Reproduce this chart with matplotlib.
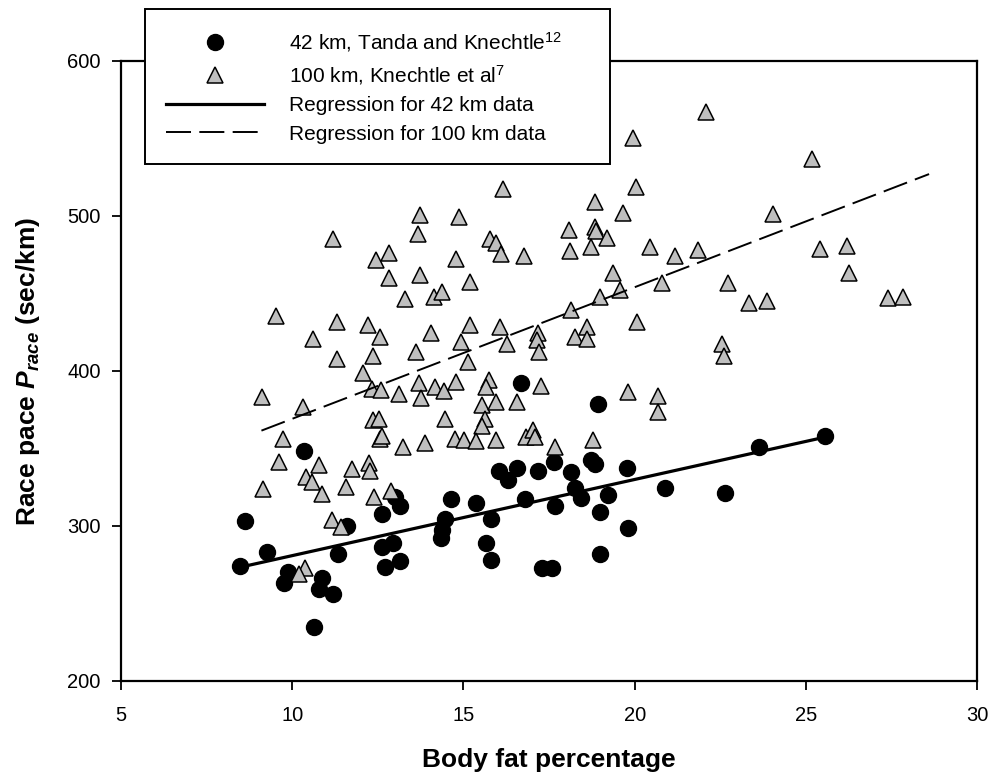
import numpy as np
import matplotlib
matplotlib.use("Agg")
from matplotlib import pyplot as plt

# 42 km marathon data (body fat %, race pace sec/km)
fat42 = [8.46, 8.61, 9.27, 9.77, 9.89, 10.33, 10.65, 10.78, 10.87, 11.18, 11.35, 11.6,
         12.63, 12.63, 12.72, 12.94, 13.01, 13.16, 13.16, 14.35, 14.37, 14.47, 14.63,
         15.37, 15.67, 15.81, 15.8, 16.03, 16.3, 16.55, 16.67, 16.79, 17.17, 17.3,
         17.64, 17.67, 17.6, 18.15, 18.26, 18.42, 18.73, 18.84, 18.94, 19.0, 19.0,
         19.22, 19.77, 19.81, 20.88, 22.65, 23.63, 25.56]
pace42 = [274.4, 303.2, 283, 263, 270.5, 348.6, 234.6, 259.1, 266.7, 256, 281.7, 300.2,
          307.7, 286.2, 273.3, 288.8, 318.9, 312.9, 277.4, 292, 297.4, 304.5, 317.4,
          314.6, 288.8, 304.3, 278, 335.7, 329.7, 337.2, 392.5, 317.2, 335.7, 273,
          341, 312.9, 273, 334.5, 324.3, 318.3, 342.6, 339.8, 378.5, 308.8, 282,
          320, 337.2, 298.9, 324.3, 321.5, 351.2, 358.3]

# 100 km ultra data
fat100 = [22.08, 19.96, 20.03, 16.15, 18.84, 19.67, 13.74, 14.87, 13.66, 11.19, 12.82,
          12.46, 12.82, 13.72, 13.28, 14.13, 14.38, 9.53, 11.32, 12.21, 12.57, 10.62,
          14.06, 11.32, 12.36, 13.61, 12.07, 12.33, 12.6, 13.11, 13.69, 13.77, 14.18,
          14.43, 9.11, 10.30, 12.37, 12.52, 14.47, 9.73, 12.55, 12.62, 13.23, 13.89,
          18.08, 18.83, 18.86, 19.2, 15.77, 15.94, 16.1, 16.78, 14.77, 18.11, 18.74,
          20.44, 21.17, 21.85, 15.18, 19.37, 19.57, 20.81, 22.74, 23.33, 19.0, 18.13,
          20.08, 15.2, 16.08, 14.93, 16.28, 17.17, 17.15, 17.2, 18.6, 18.25, 18.6,
          22.56, 22.61, 15.13, 14.77, 15.74, 15.67, 17.27, 16.55, 15.54, 15.94, 15.64,
          15.54, 19.81, 20.69, 20.69, 14.75, 15.03, 15.38, 15.96, 16.84, 17.04, 17.1,
          17.68, 18.79, 25.17, 24.05, 25.42, 26.2, 26.27, 23.88, 27.39, 27.84, 9.6,
          9.16, 10.41, 10.77, 10.58, 10.87, 11.16, 11.42, 11.76, 11.58, 12.23, 12.26,
          12.4, 12.89, 10.38, 10.21]
pace100 = [567, 550.5, 518.5, 517.4, 509, 502.1, 500.6, 499.5, 488.4, 485.2, 476.3,
           471.6, 459.8, 462, 446.5, 448, 451.2, 435.5, 431.8, 429.7, 422.1, 420.4,
           424.7, 407.5, 409.7, 412.4, 398.9, 388.4, 387.7, 384.9, 392.5, 382.8, 389.5,
           387.3, 383, 377, 368.4, 368.8, 368.8, 355.9, 355.9, 358, 351.2, 353.3,
           491, 493.1, 490.5, 485.6, 485.2, 482.4, 475.5, 474.2, 472.1, 477.6, 479.8,
           479.8, 474.4, 478.1, 457.6, 463, 452.3, 456.6, 456.6, 443.7, 447.5, 439.4,
           431.8, 429.7, 428.6, 418.5, 417.4, 424.7, 420, 412.4, 428.2, 421.7, 420.6,
           417.4, 409.9, 405.6, 392.7, 394.2, 389.5, 390.3, 380.2, 378, 380.2, 368.9,
           364.5, 386.2, 383.9, 373.3, 355.9, 355.5, 355, 355.5, 357.2, 361.9, 357.2,
           351.2, 355.5, 537, 501.3, 478.5, 480.8, 463.4, 445.4, 446.9, 448, 341,
           323.7, 331.8, 339.4, 328.6, 320.6, 303.9, 299.6, 336.8, 325.4, 340.4, 335.7,
           318.9, 322.6, 272.7, 269]

# regression line end points
reg42_x = [8.5, 25.5]
reg42_y = [273.5, 357]
reg100_x = [9.1, 28.6]
reg100_y = [361.5, 527]

plt.rcParams["font.family"] = "Liberation Sans"
plt.rcParams["mathtext.fontset"] = "custom"
plt.rcParams["mathtext.rm"] = "Liberation Sans"
plt.rcParams["mathtext.it"] = "Liberation Sans:bold:italic"
plt.rcParams["mathtext.bf"] = "Liberation Sans:bold"
plt.rcParams["lines.scale_dashes"] = False

fig = plt.figure(figsize=(9.93, 7.78), dpi=100)
ax = fig.add_axes([0.1219, 0.1247, 0.862, 0.797])

ax.plot(fat42, pace42, "o", color="black", markersize=11.5, linestyle="none",
        label="42 km, Tanda and Knechtle$^{12}$", zorder=3)
ax.plot(reg42_x, reg42_y, "-", color="black", linewidth=2.3,
        label="Regression for 42 km data", zorder=4)
ax.plot(fat100, pace100, "^", markerfacecolor="#bfbfbf", markeredgecolor="black",
        markeredgewidth=1.1, markersize=11.5, linestyle="none",
        label="100 km, Knechtle et al$^{7}$", zorder=5)
ax.plot(reg100_x, reg100_y, color="black", linewidth=1.4, dashes=(18, 6),
        label="Regression for 100 km data", zorder=6)

ax.set_xlim(5, 30)
ax.set_ylim(200, 600)
ax.set_xticks([5, 10, 15, 20, 25, 30])
ax.set_yticks([200, 300, 400, 500, 600])
for s in ax.spines.values():
    s.set_linewidth(1.6)
ax.tick_params(direction="out", length=6.7, width=1.3, labelsize=14.5)
ax.tick_params(axis="x", pad=11)
ax.tick_params(axis="y", pad=8)

ax.set_xlabel("Body fat percentage", fontsize=19, fontweight="bold")
ax.set_ylabel(r"Race pace $P_{race}$ (sec/km)", fontsize=19, fontweight="bold")
ax.xaxis.set_label_coords(0.5, -0.108)
ax.yaxis.set_label_coords(-0.092, 0.5)

h, l = ax.get_legend_handles_labels()
order = [0, 2, 1, 3]
leg = ax.legend([h[i] for i in order], [l[i] for i in order],
                loc="upper left", bbox_to_anchor=(0.028, 0.829, 0.543, 0.255),
                mode="expand", fontsize=15, frameon=True, fancybox=False,
                edgecolor="black", framealpha=1, handlelength=4.7,
                handletextpad=1.2, borderpad=1.0, labelspacing=0.45, numpoints=1,
                borderaxespad=0)
leg.get_frame().set_linewidth(1.4)
leg.set_zorder(10)

fig.savefig("out.png", dpi=100)
